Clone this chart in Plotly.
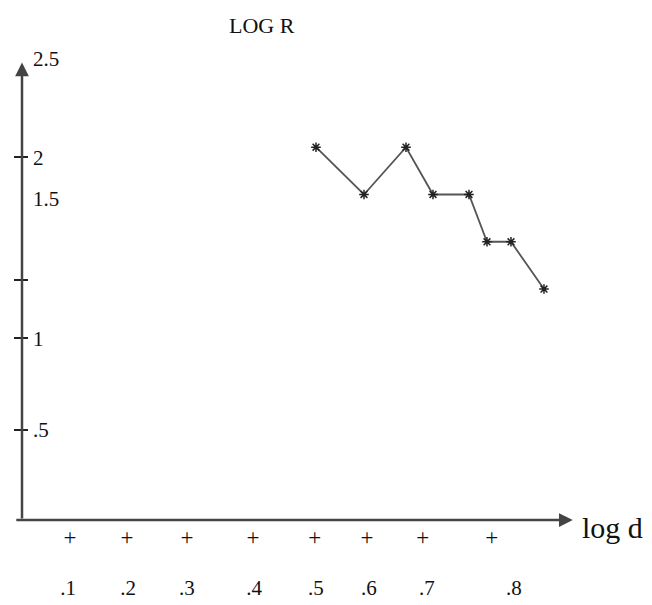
import plotly.graph_objects as go

# ---- data ----
log_d = [0.51, 0.59, 0.66, 0.705, 0.765, 0.795, 0.835, 0.89]
log_r = [2.05, 1.79, 2.05, 1.79, 1.79, 1.53, 1.53, 1.27]

# x axis: "+" marks and the labels printed underneath them
x_plus_pos = [0.10, 0.195, 0.295, 0.405, 0.508, 0.595, 0.688, 0.803]
x_label_pos = [0.097, 0.197, 0.295, 0.407, 0.51, 0.598, 0.695, 0.84]
x_label_text = [".1", ".2", ".3", ".4", ".5", ".6", ".7", ".8"]

# y axis: labels and tick marks (hand-placed in the original)
y_label_pos = [0.495, 1.0, 1.765, 1.995, 2.538]
y_label_text = [".5", "1", "1.5", "2", "2.5"]
y_tick_marks = [0.495, 1.0, 1.319, 1.995]

SERIF = "Liberation Serif, Times New Roman, serif"
INK = "#111111"
X_RANGE = [0.02, 0.9417]
Y_RANGE = [0, 2.7]

fig = go.Figure()
fig.add_trace(go.Scatter(
    x=log_d, y=log_r, mode="lines+markers",
    line=dict(color="#555555", width=1.8),
    marker=dict(symbol="asterisk-open", size=8, color="#222222",
                line=dict(color="#222222", width=1.5)),
    cliponaxis=False, showlegend=False, hoverinfo="x+y",
))
# helper traces so the overlay axes exist
fig.add_trace(go.Scatter(x=[None], y=[None], xaxis="x2", yaxis="y", showlegend=False))
fig.add_trace(go.Scatter(x=[None], y=[None], xaxis="x", yaxis="y2", showlegend=False))
fig.add_trace(go.Scatter(x=[None], y=[None], xaxis="x", yaxis="y3", showlegend=False))

fig.update_layout(
    width=644, height=597,
    margin=dict(l=14, r=77, t=21, b=85),
    paper_bgcolor="white", plot_bgcolor="white",
    font=dict(family=SERIF, color=INK),
    xaxis=dict(range=X_RANGE, showgrid=False, zeroline=False, showline=False,
               automargin=False,
               tickmode="array", tickvals=x_plus_pos,
               ticktext=["+"] * len(x_plus_pos), ticks="",
               tickfont=dict(size=23, family=SERIF, color=INK),
               ticklabelstandoff=1),
    xaxis2=dict(range=X_RANGE, overlaying="x", anchor="y", side="bottom",
                automargin=False,
                showgrid=False, zeroline=False, showline=False,
                tickmode="array", tickvals=x_label_pos, ticktext=x_label_text,
                ticks="", tickfont=dict(size=21, family=SERIF, color=INK),
                ticklabelstandoff=53),
    yaxis=dict(range=Y_RANGE, showgrid=False, zeroline=False, showline=False,
               automargin=False,
               tickmode="array", tickvals=y_label_pos, ticktext=y_label_text,
               ticks="", ticklabelposition="inside",
               tickfont=dict(size=21, family=SERIF, color=INK),
               ticklabelstandoff=8),
    yaxis2=dict(range=Y_RANGE, overlaying="y", anchor="x", side="left",
                automargin=False,
                showgrid=False, zeroline=False, showline=False,
                tickmode="array", tickvals=y_tick_marks, ticks="outside",
                ticklen=7, tickwidth=2, tickcolor="#222222",
                showticklabels=False),
    yaxis3=dict(range=Y_RANGE, overlaying="y", anchor="x", side="left",
                automargin=False,
                showgrid=False, zeroline=False, showline=False,
                tickmode="array", tickvals=y_tick_marks, ticks="inside",
                ticklen=6, tickwidth=2, tickcolor="#222222",
                showticklabels=False),
    annotations=[
        # y axis with arrow
        dict(x=0.02, y=2.516, ax=0.02, ay=0.0, xref="x", yref="y",
             axref="x", ayref="y", text="", showarrow=True,
             arrowhead=2, arrowsize=1.1, arrowwidth=2.5, arrowcolor="#444444"),
        # x axis with arrow
        dict(x=0.938, y=0.0, ax=0.008, ay=0.0, xref="x", yref="y",
             axref="x", ayref="y", text="", showarrow=True,
             arrowhead=2, arrowsize=1.1, arrowwidth=2.5, arrowcolor="#444444"),
        dict(x=0.434, y=1.008, xref="paper", yref="paper", text="LOG R",
             showarrow=False, xanchor="center", yanchor="middle",
             font=dict(size=22, family=SERIF, color=INK)),
        dict(x=1.009, y=-0.0143, xref="paper", yref="paper", text="log d",
             showarrow=False, xanchor="left", yanchor="middle",
             font=dict(size=30, family=SERIF, color=INK)),
    ],
)

fig.write_html("out.html")
